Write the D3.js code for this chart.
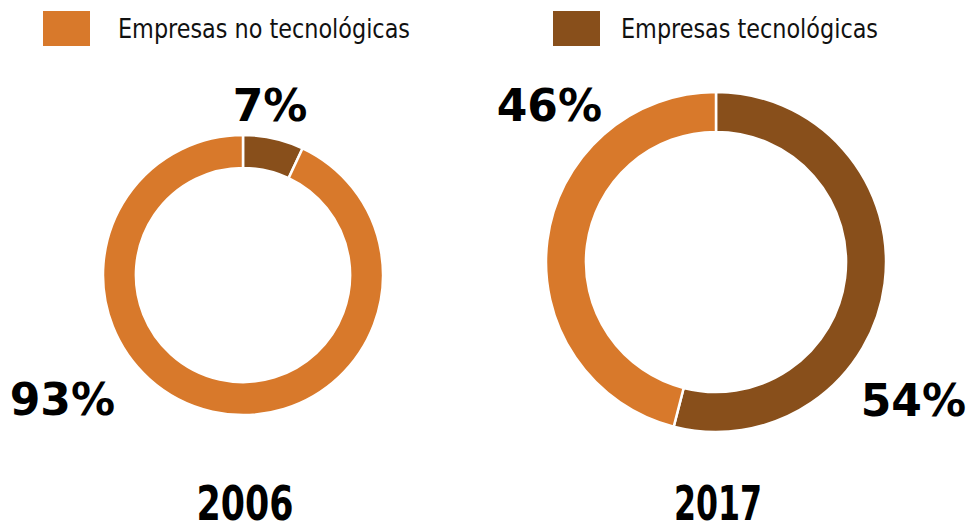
<!DOCTYPE html>
<html>
<head>
<meta charset="utf-8">
<script src="https://cdn.jsdelivr.net/npm/d3@7"></script>
<style>
  body { margin: 0; background: #fff; }
  svg { display: block; }
  .legend text { font-family: "DejaVu Sans Condensed", "DejaVu Sans", sans-serif; font-size: 27px; fill: #111; }
  .pct { font-family: "DejaVu Sans", Verdana, sans-serif; font-weight: bold; font-size: 44px; fill: #000; }
  .year { font-family: "DejaVu Sans Condensed", "DejaVu Sans", sans-serif; font-weight: bold; font-size: 48px; fill: #000; }
</style>
</head>
<body>
<div id="chart"></div>
<script>
// categories and values
const categories = ["Empresas tecnológicas", "Empresas no tecnológicas"];
const years = ["2006", "2017"];
const values2006 = [7, 93];
const values2017 = [54, 46];
const colors = ["#884F1B", "#D8792B"];

const width = 973, height = 523;

const svg = d3.select("#chart")
    .append("svg")
    .attr("width", width)
    .attr("height", height);

const color = d3.scaleOrdinal().domain(categories).range(colors);

// legend (non-tech first, like the original)
const legendItems = [
    {label: categories[1], x: 43, tx: 118, len: 292},
    {label: categories[0], x: 553, tx: 621, len: 257}
];
const legend = svg.append("g").attr("class", "legend");
legendItems.forEach(d => {
    legend.append("rect")
        .attr("x", d.x).attr("y", 11)
        .attr("width", 47).attr("height", 35)
        .attr("fill", color(d.label));
    legend.append("text")
        .attr("x", d.tx).attr("y", 38)
        .attr("textLength", d.len)
        .attr("lengthAdjust", "spacingAndGlyphs")
        .text(d.label);
});

// donuts
const donuts = [
    {year: years[0], values: values2006, cx: 243, cy: 275, r: 140, yearLen: 97,
     labels: [{dx: 27, dy: -154, anchor: "middle"}, {dx: -128, dy: 140, anchor: "end"}]},
    {year: years[1], values: values2017, cx: 716, cy: 262, r: 170, yearLen: 88,
     labels: [{dx: 250, dy: 154, anchor: "end"}, {dx: -114, dy: -141, anchor: "end"}]}
];

const pie = d3.pie().sort(null).value(d => d.value);

donuts.forEach(dn => {
    const data = categories.map((c, i) => ({cat: c, value: dn.values[i]}));
    const arc = d3.arc().innerRadius(dn.r * 0.765).outerRadius(dn.r);

    const g = svg.append("g")
        .attr("transform", `translate(${dn.cx},${dn.cy})`);

    g.selectAll("path")
        .data(pie(data))
        .enter()
        .append("path")
        .attr("d", arc)
        .attr("fill", d => color(d.data.cat))
        .attr("stroke", "#fff")
        .attr("stroke-width", 2.5);

    g.selectAll("text.pct")
        .data(data)
        .enter()
        .append("text")
        .attr("class", "pct")
        .attr("x", (d, i) => dn.labels[i].dx)
        .attr("y", (d, i) => dn.labels[i].dy)
        .attr("text-anchor", (d, i) => dn.labels[i].anchor)
        .text(d => d.value + "%");

    svg.append("text")
        .attr("class", "year")
        .attr("x", dn.cx + 2)
        .attr("y", 520)
        .attr("text-anchor", "middle")
        .attr("textLength", dn.yearLen)
        .attr("lengthAdjust", "spacingAndGlyphs")
        .text(dn.year);
});
</script>
</body>
</html>
